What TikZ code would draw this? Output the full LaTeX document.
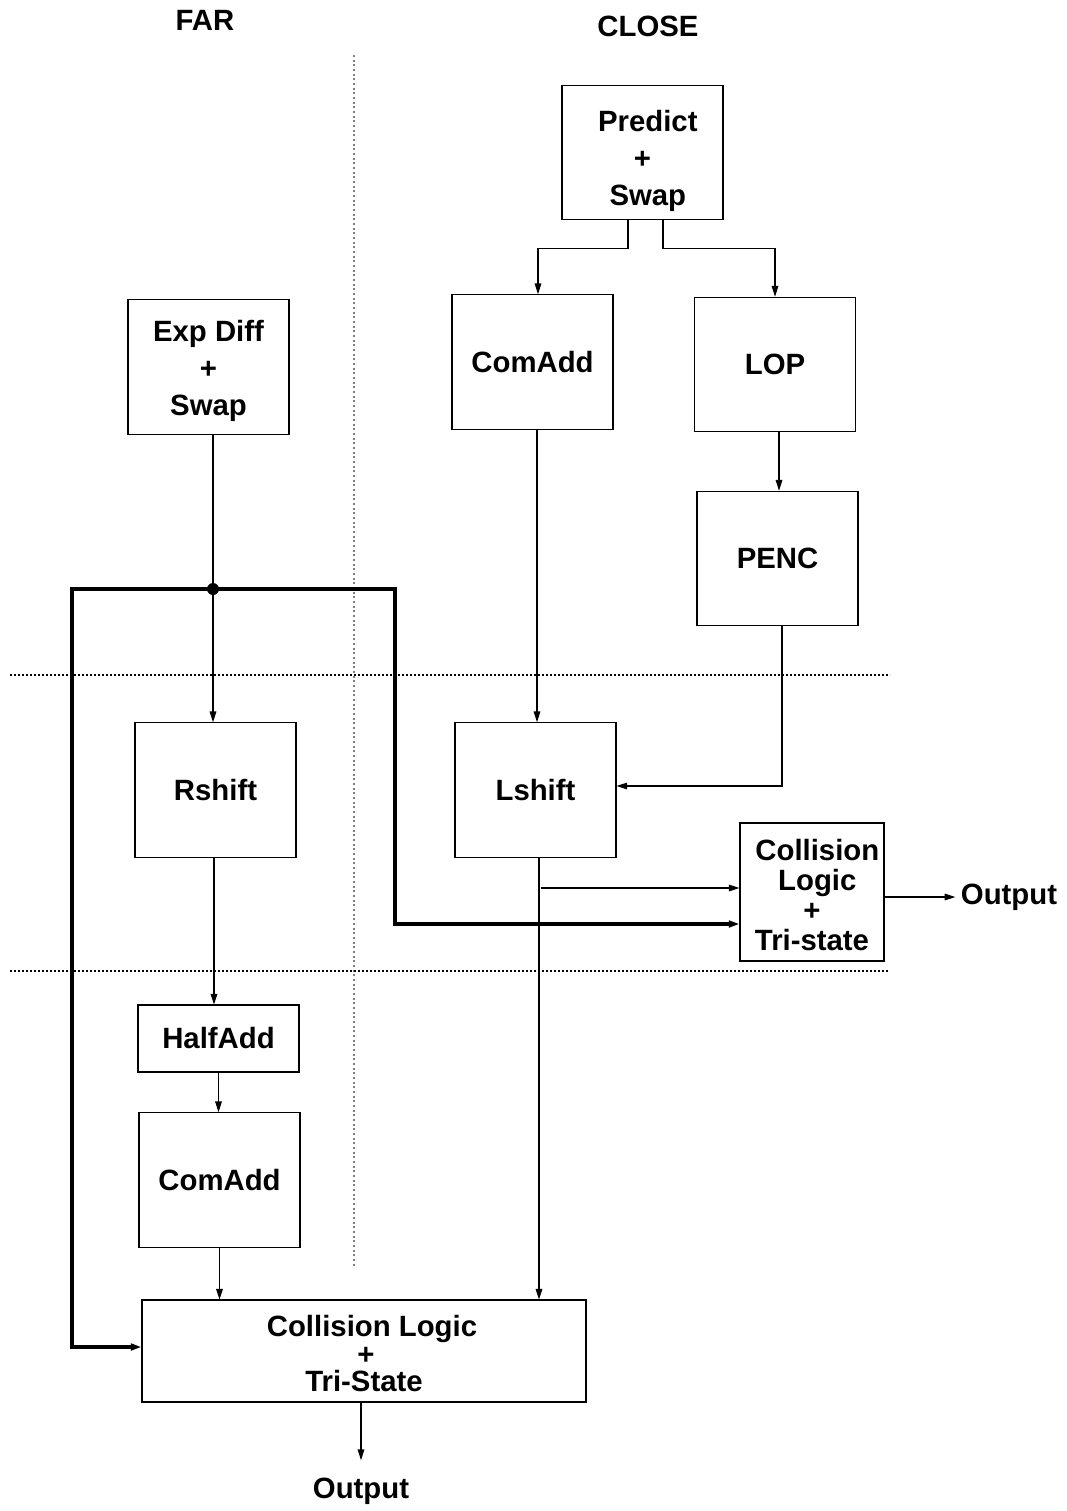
\documentclass[tikz,border=0pt]{standalone}
\usepackage{fontspec}
\setmainfont{Liberation Sans}
\usetikzlibrary{arrows.meta,calc}
\tikzset{
  blk/.style={draw,line width=0.8pt,inner sep=0pt,align=center,minimum width=120.75pt,minimum height=101pt,
    font=\fontsize{22}{27.75}\selectfont\bfseries},
  lbl/.style={inner sep=4pt,font=\fontsize{22}{26}\selectfont\bfseries},
  arr/.style={line width=0.8pt,-{Triangle[length=8pt,width=5pt]}},
  tarr/.style={line width=2.3pt,-{Triangle[length=8pt,width=5pt]}},
  hdot/.style={line width=1.4pt,dash pattern=on 1.4pt off 1.6pt},
  vdot/.style={line width=0.9pt,gray,dash pattern=on 1.5pt off 2pt}
}
\begin{document}
\begin{tikzpicture}[x=0.75pt,y=-0.75pt]
\useasboundingbox (0,0) rectangle (1067,1511);
% separators
\draw[vdot] (354,55) -- (354,1267);
\draw[hdot] (10,675) -- (890,675);
\draw[hdot] (10,971) -- (888,971);
% headings
\node[lbl] (far) at (205,20) {FAR};
\node[lbl] (close) at (648,26) {CLOSE};
% blocks
\node[blk] (pred) at (642.5,152.5) {\rule{0pt}{28pt}\hspace*{8pt}Predict\\+\\\hspace*{8pt}Swap};
\node[blk] (comA) at (532.5,362) {ComAdd};
\node[blk] (lop) at (775,364.5) {LOP};
\node[blk] (penc) at (777.5,558.5) {PENC};
\node[blk] (exp) at (208.5,367) {\rule{0pt}{22pt}Exp Diff\\+\\Swap};
\node[blk] (rsh) at (215.5,790) {Rshift};
\node[blk] (lsh) at (535.5,790) {Lshift};
\node[blk,minimum width=108pt,minimum height=103.5pt,font=\fontsize{22}{22.5}\selectfont\bfseries] (col1) at (812,892) {\rule{0pt}{20pt}\hspace*{8pt}Collision\\\hspace*{8pt}Logic\\+\\Tri-state};
\node[blk,minimum height=50.25pt] (half) at (218.5,1038.5) {HalfAdd};
\node[blk] (comB) at (219.5,1180) {ComAdd};
\node[blk,minimum width=333pt,minimum height=76.5pt,font=\fontsize{22}{20.6}\selectfont\bfseries] (col2) at (364,1351) {\rule{0pt}{20pt}\hspace*{12pt}Collision Logic\\\hspace*{3pt}+\\Tri-State};
\node[lbl] (out1) at (1009,897) {Output};
\node[lbl] (out2) at (361,1491) {Output};
% coordinates
\coordinate (dot) at (213,589);
\coordinate (lft) at (72,589);
\coordinate (rgt) at (395,589);
% connectors
\draw[arr] ($(pred.south)+(-14.5,0)$) -- ++(0,28) -| ($(comA.north)+(5.5,0)$);
\draw[arr] ($(pred.south)+(20.5,0)$) -- ++(0,28) -| (lop.north);
\draw[arr] ($(lop.south)+(4,0)$) coordinate (lp) -- (lp |- penc.north);
\draw[arr] ($(comA.south)+(4.5,0)$) coordinate (ca) -- (ca |- lsh.north);
\draw[arr] ($(penc.south)+(4.5,0)$) |- ($(lsh.east)+(0,-4)$);
\draw[arr] (exp.south -| dot) -- (rsh.north -| dot);
\draw[tarr] (dot) -- (lft) |- ($(col2.west)+(0,-4)$);
\draw[tarr] (dot) -- (rgt) |- ($(col1.west)+(0,32)$);
\fill (dot) circle (6);
\draw[arr] ($(lsh.south)+(3.5,0)$) coordinate (ls) -- (ls |- col2.north);
\draw[arr] ($(ls |- col1.west)+(1.5,-4)$) -- ($(col1.west)+(0,-4)$);
\draw[arr] (col1.east |- out1) -- (out1.west);
\draw[arr] ($(rsh.south)+(-1.5,0)$) coordinate (rs) -- (rs |- half.north);
\draw[arr] (half.south) -- (half.south |- comB.north);
\draw[arr] (comB.south) -- (comB.south |- col2.north);
\draw[arr] (col2.south -| out2) -- ($(out2.north)+(0,-12)$);
\end{tikzpicture}
\end{document}
